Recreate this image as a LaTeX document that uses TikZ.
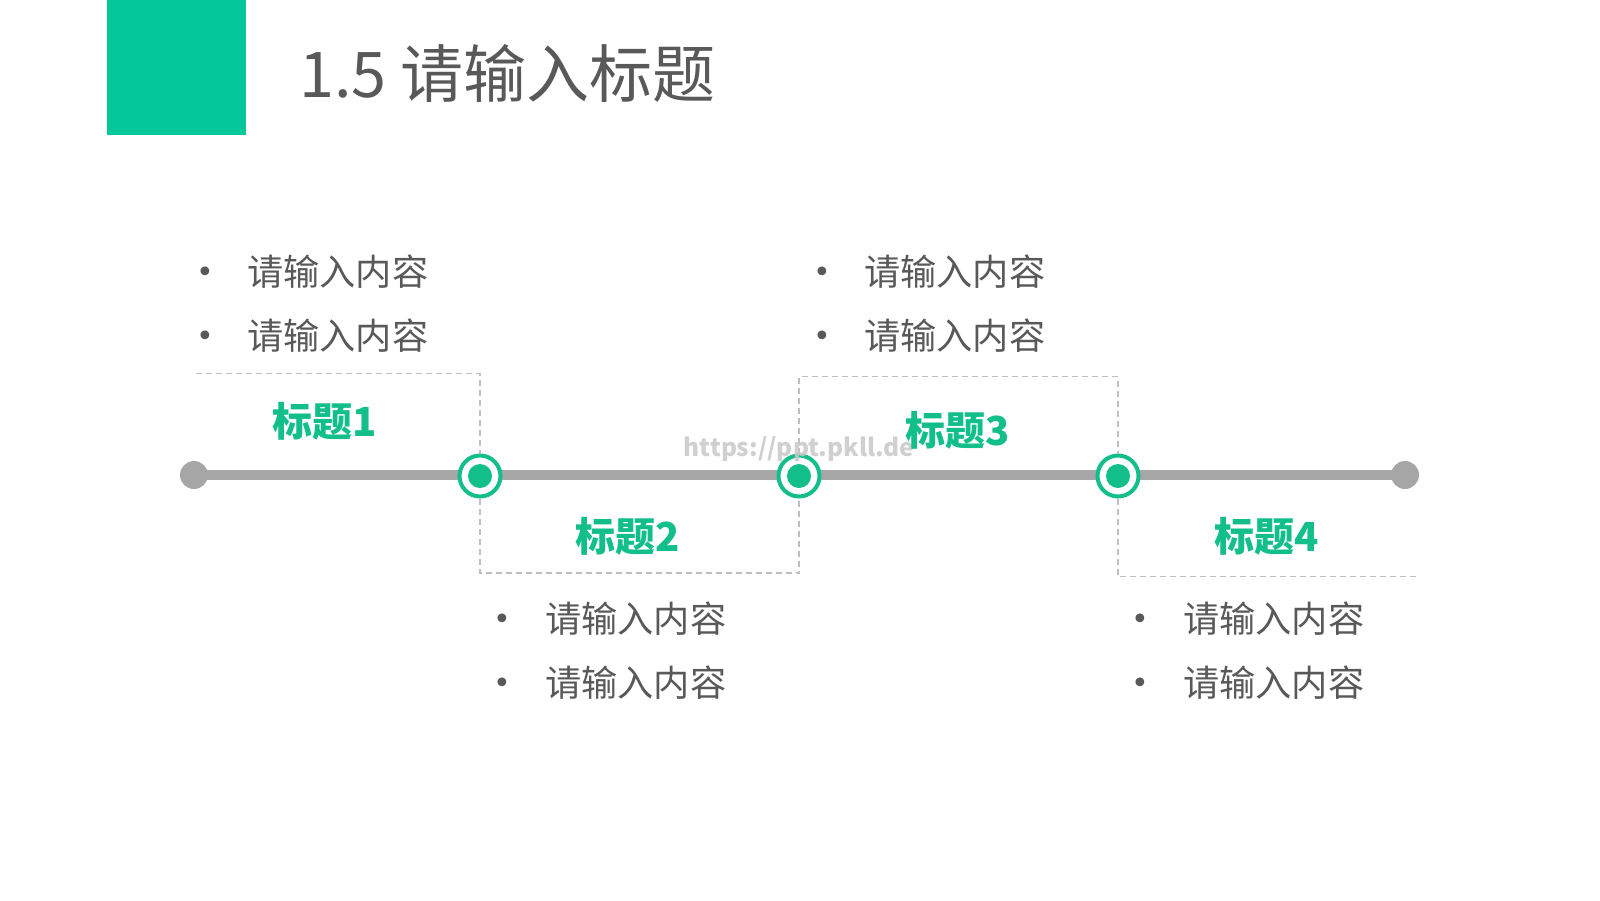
\documentclass[tikz,border=0pt]{standalone}
\usepackage{fontspec}
\setmainfont{Noto Sans CJK SC}
\newfontfamily\dejavu{DejaVu Sans}
\usetikzlibrary{backgrounds}
\definecolor{sqgreen}{HTML}{02C89A}
\definecolor{tgreen}{HTML}{12BE8A}
\definecolor{lgray}{HTML}{A6A6A6}
\definecolor{tgray}{HTML}{595959}
\definecolor{dgray}{HTML}{BFBFBF}
\definecolor{wmgray}{HTML}{C8C8C8}
\tikzset{
  endpt/.style={circle, fill=lgray, minimum size=28pt, inner sep=0pt},
  mstone/.style={circle, draw=tgreen, line width=4pt, fill=white, minimum size=41pt, inner sep=0pt,
    path picture={\fill[tgreen] (path picture bounding box.center) circle (12pt);}},
  tline/.style={draw=lgray, line width=10pt},
  dbox/.style={draw=dgray, line width=1.5pt, dash pattern=on 6pt off 4pt},
  lab/.style={text=tgreen, font=\fontsize{40}{40}\selectfont\bfseries, inner sep=0pt},
  itemtext/.style={text=tgray, font=\fontsize{36.2}{36.2}\selectfont, inner sep=0pt, anchor=west},
  bul/.style={text=tgray, font=\dejavu\fontsize{30}{30}\selectfont, inner sep=0pt, anchor=base},
}
\begin{document}
\begin{tikzpicture}[x=1pt,y=-1pt]
\useasboundingbox (0,0) rectangle (1600,900);
% header
\node[fill=sqgreen, minimum width=139pt, minimum height=135pt, inner sep=0pt, anchor=north west] (sq) at (107,0) {};
\node[anchor=west, text=tgray, font=\fontsize{63}{63}\selectfont, inner sep=0pt] (title) at (299,73) {1.5 请输入标题};
% timeline nodes
\node[endpt] (e1) at (194,475) {};
\node[endpt] (e2) at (1405,475) {};
\node[mstone] (m1) at (480,476) {};
\node[mstone] (m2) at (799,476) {};
\node[mstone] (m3) at (1118,476) {};
\begin{scope}[on background layer]
  \draw[tline] (e1.center) -- (e2.center);
\end{scope}
% dashed frames
\coordinate (b1a) at (196,373.5);
\coordinate (b1b) at (480,373.5);
\coordinate (b2a) at (480,573);
\coordinate (b2b) at (799,573);
\coordinate (b3a) at (799,376.5);
\coordinate (b3b) at (1118,376.5);
\coordinate (b4a) at (1118,576.5);
\coordinate (b4b) at (1416,576.5);
\draw[dbox] (b1a) -- (b1b) -- (m1);
\draw[dbox] (m1) -- (b2a) -- (b2b) -- (m2);
\draw[dbox] (m2) -- (b3a) -- (b3b) -- (m3);
\draw[dbox] (m3) -- (b4a) -- (b4b);
% watermark
\node[text=wmgray, font=\fontsize{24.5}{24.5}\selectfont\bfseries, inner sep=0pt, opacity=0.85] (wm) at (799,449) {https://ppt.pkll.de};
% labels
\node[lab] (t1) at (325,421) {标题1};
\node[lab] (t2) at (628,536) {标题2};
\node[lab] (t3) at (958,430) {标题3};
\node[lab] (t4) at (1267,536) {标题4};
% bullet lists
\node[bul] (p1a) at (205,282) {•};
\node[itemtext] (i1a) at (247,272) {请输入内容};
\node[bul] (p1b) at (205,346) {•};
\node[itemtext] (i1b) at (247,336) {请输入内容};
\node[bul] (p2a) at (822,282) {•};
\node[itemtext] (i2a) at (864,272) {请输入内容};
\node[bul] (p2b) at (822,346) {•};
\node[itemtext] (i2b) at (864,336) {请输入内容};
\node[bul] (p3a) at (502,629) {•};
\node[itemtext] (i3a) at (545,619) {请输入内容};
\node[bul] (p3b) at (502,693) {•};
\node[itemtext] (i3b) at (545,683) {请输入内容};
\node[bul] (p4a) at (1140,629) {•};
\node[itemtext] (i4a) at (1183,619) {请输入内容};
\node[bul] (p4b) at (1140,693) {•};
\node[itemtext] (i4b) at (1183,683) {请输入内容};
\end{tikzpicture}
\end{document}
